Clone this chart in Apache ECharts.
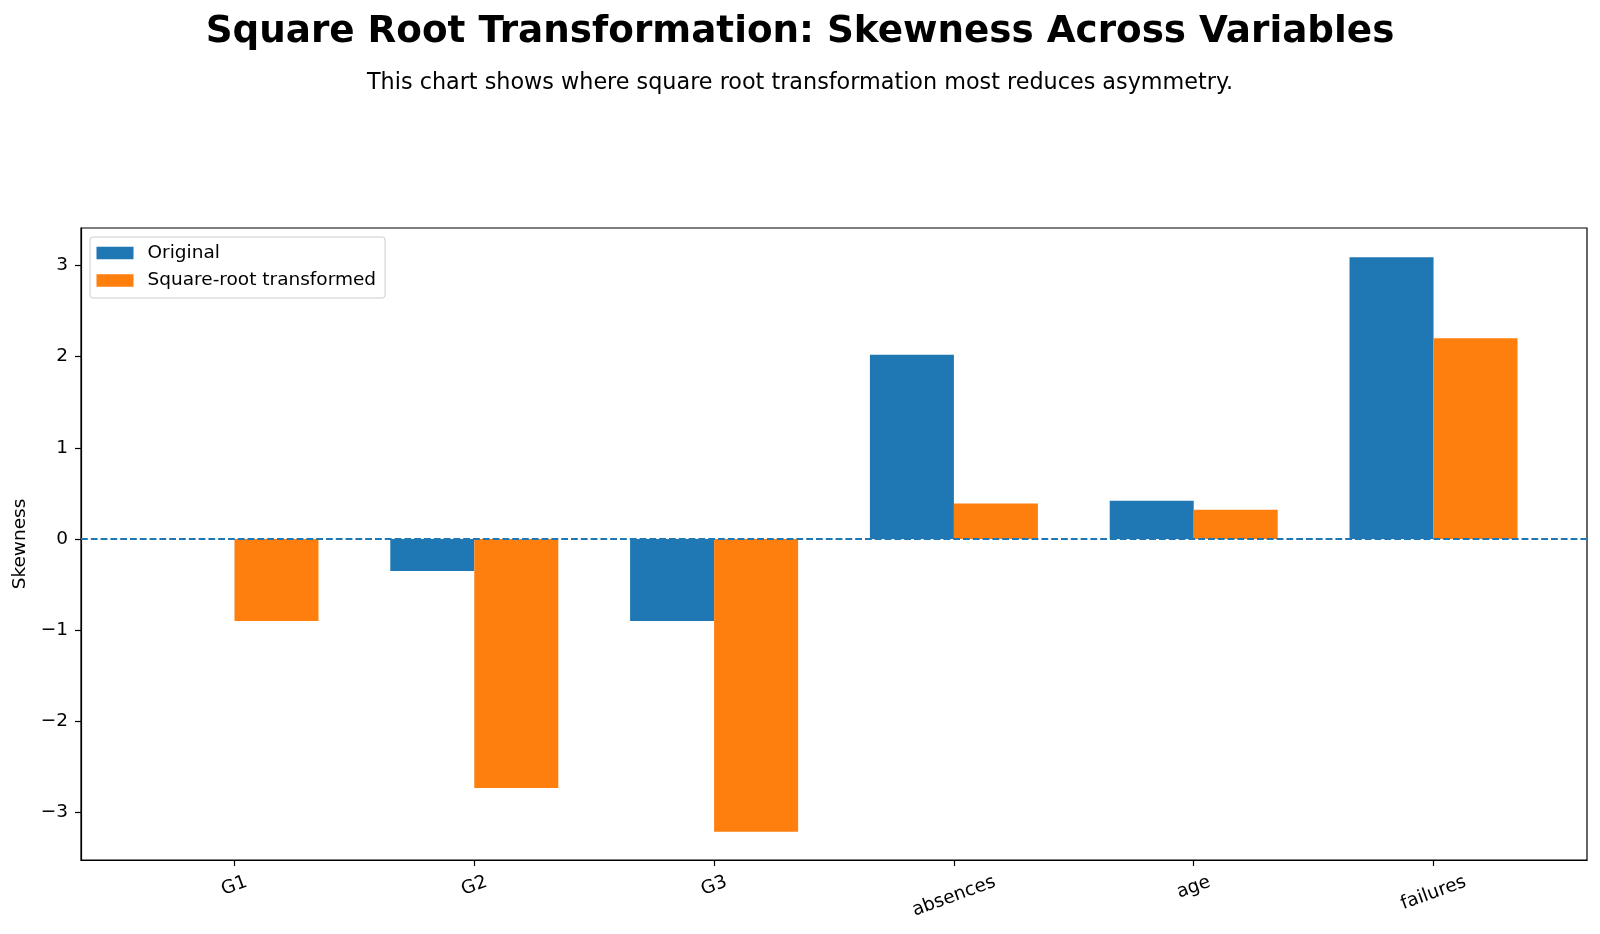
<!DOCTYPE html>
<html>
<head>
<meta charset="utf-8">
<script src="https://cdn.jsdelivr.net/npm/echarts@6/dist/echarts.min.js"></script>
<style>
  html, body { margin: 0; padding: 0; background: #fff; }
  #chart { width: 1600px; height: 934px; }
</style>
</head>
<body>
<div id="chart"></div>
<script>
// variables on the x axis
var categories = ['G1', 'G2', 'G3', 'absences', 'age', 'failures'];
// skewness before / after the square root transform
var original = [0.0, -0.35, -0.90, 2.02, 0.42, 3.09];
var sqrtTransformed = [-0.90, -2.73, -3.21, 0.39, 0.32, 2.20];
var yTicks = [-3, -2, -1, 0, 1, 2, 3];
var xTicks = [0, 1, 2, 3, 4, 5];

var font = 'DejaVu Sans';
var fs = 18.5;
var chart = echarts.init(document.getElementById('chart'));

function minusLabel(v) {
  return v < 0 ? '\u2212' + Math.abs(v) : String(v);
}

// rotated x labels: push longer words down so every label's top sits at the same height
var ctx = document.createElement('canvas').getContext('2d');
ctx.font = fs + 'px "' + font + '"';
var widths = categories.map(function (c) { return ctx.measureText(c).width; });
var minW = Math.min.apply(null, widths);
var ang = 20 * Math.PI / 180;
var rich = {};
categories.forEach(function (c, i) {
  var d = (widths[i] - minW) * Math.sin(ang) / 2;
  rich['l' + i] = {
    fontFamily: font,
    fontSize: fs,
    color: '#000',
    padding: [2 * d * Math.cos(ang), 2 * d * Math.sin(ang), 0, 0]
  };
});

var option = {
  animation: false,
  backgroundColor: '#fff',
  title: [
    {
      text: 'Square Root Transformation: Skewness Across Variables',
      left: 'center',
      top: 9,
      textStyle: { fontFamily: font, fontSize: 37.3, fontWeight: 'bold', color: '#000' }
    },
    {
      text: 'This chart shows where square root transformation most reduces asymmetry.',
      left: 'center',
      top: 67,
      textStyle: { fontFamily: font, fontSize: 22.3, fontWeight: 'normal', color: '#000' }
    }
  ],
  legend: {
    left: 90,
    top: 237,
    orient: 'vertical',
    padding: [6.5, 9, 8, 6.5],
    itemGap: 8.5,
    itemWidth: 37,
    itemHeight: 12.5,
    icon: 'rect',
    borderColor: '#cccccc',
    borderWidth: 1,
    borderRadius: 3,
    backgroundColor: 'rgba(255,255,255,0.8)',
    textStyle: { fontFamily: font, fontSize: fs, color: '#000', padding: [0, 0, 0, 9] },
    data: ['Original', 'Square-root transformed']
  },
  grid: {
    left: 81,
    right: 13,
    top: 228,
    bottom: 74,
    show: true,
    borderColor: '#000',
    borderWidth: 1.2,
    containLabel: false
  },
  xAxis: {
    type: 'value',
    min: -0.64,
    max: 5.64,
    splitLine: { show: false },
    axisLine: { show: true, onZero: false, lineStyle: { color: '#000', width: 1.2 } },
    axisTick: { show: true, customValues: xTicks, length: 6, lineStyle: { color: '#000', width: 1.2 } },
    axisLabel: {
      customValues: xTicks,
      formatter: function (v) {
        var i = Math.round(v);
        return '{l' + i + '|' + categories[i] + '}';
      },
      rich: rich,
      rotate: 20,
      align: 'center',
      verticalAlign: 'middle',
      margin: 26,
      fontFamily: font,
      fontSize: fs,
      color: '#000'
    }
  },
  yAxis: {
    type: 'value',
    min: -3.52,
    max: 3.41,
    name: 'Skewness',
    nameLocation: 'middle',
    nameGap: 43,
    nameTextStyle: { fontFamily: font, fontSize: fs, color: '#000' },
    splitLine: { show: false },
    axisLine: { show: true, onZero: false, lineStyle: { color: '#000', width: 1.2 } },
    axisTick: { show: true, customValues: yTicks, length: 6, lineStyle: { color: '#000', width: 1.2 } },
    axisLabel: {
      customValues: yTicks,
      formatter: minusLabel,
      margin: 13,
      fontFamily: font,
      fontSize: fs,
      color: '#000'
    }
  },
  series: [
    {
      name: 'Original',
      type: 'bar',
      barWidth: 84,
      barGap: '0%',
      itemStyle: { color: '#1f77b4' },
      data: categories.map(function (c, i) { return [i, original[i]]; }),
      markLine: {
        silent: true,
        symbol: 'none',
        label: { show: false },
        lineStyle: { color: '#1f77b4', type: [6.8, 3], width: 1.8 },
        data: [{ yAxis: 0 }]
      }
    },
    {
      name: 'Square-root transformed',
      type: 'bar',
      barWidth: 84,
      barGap: '0%',
      itemStyle: { color: '#ff7f0e' },
      data: categories.map(function (c, i) { return [i, sqrtTransformed[i]]; })
    }
  ]
};

chart.setOption(option);
</script>
</body>
</html>
